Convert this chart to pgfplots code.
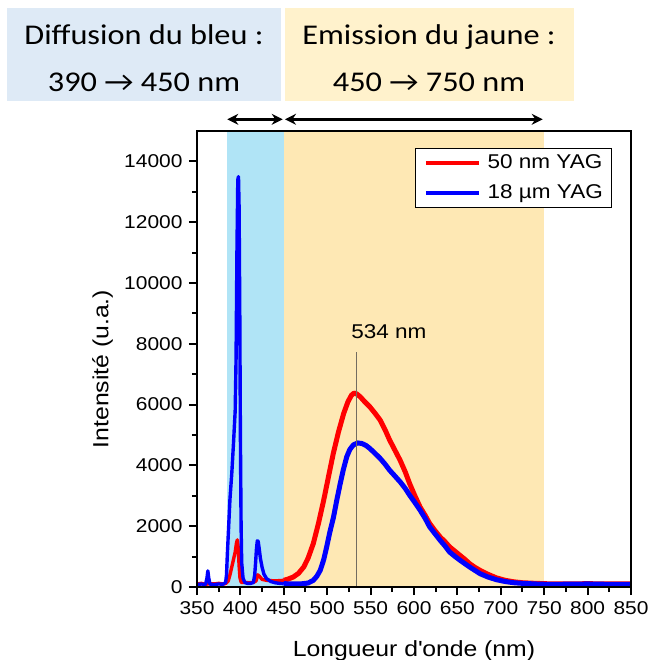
\documentclass[border=0pt]{standalone}
\usepackage{fontspec}
\setmainfont{Liberation Sans}[FakeStretch=1.13]
\newfontfamily\calib{Carlito}[FakeStretch=1.13]
\usepackage{pgfplots}
\usepackage{pgfplotstable}
\pgfplotsset{compat=1.18}
\usetikzlibrary{arrows.meta}
\definecolor{bandblue}{RGB}{176,228,246}
\definecolor{bandyellow}{RGB}{254,232,180}
\definecolor{boxblue}{RGB}{222,234,246}
\definecolor{boxyellow}{RGB}{255,242,204}
\definecolor{vline}{RGB}{115,108,96}

% 50 nm YAG, scattering region
\pgfplotstableread{
x y
350 100
355 120
360 90
365 110
370 100
375 120
380 100
383 110
386 200
388 400
390 650
392 900
394 1150
395.5 1450
396.5 1550
397.5 1300
398.5 700
399.5 300
401 150
405 150
410 140
415 150
418 200
420 400
422 350
425 250
430 220
435 210
440 200
445 210
450 220
}\redA
% 50 nm YAG, emission region
\pgfplotstableread{
x y
450 220
455 260
461 330
467 450
473 660
478 950
484 1430
490 2100
496 2860
502 3700
507 4390
513 5100
519 5710
524 6100
528 6310
531 6380
534 6350
538 6260
543 6100
549 5930
555 5720
561 5490
567 5150
572 4830
578 4500
584 4170
590 3780
595 3400
601 3000
607 2630
613 2350
618 2090
624 1860
630 1650
636 1480
641 1320
647 1180
653 1040
659 900
664 770
670 650
676 550
685 420
695 300
705 220
715 170
725 140
740 120
750 110
760 100
780 100
800 110
820 100
850 100
}\redB
% 18 um YAG, scattering region
\pgfplotstableread{
x y
350 80
355 100
358 80
360 100
361.5 300
362.5 530
363.5 300
365 90
370 80
375 100
380 90
383 150
384 400
385 1100
386.5 2000
388 2900
390 3700
392 4700
394 5800
395 7500
396 11000
397 13400
397.8 13500
398.5 12500
399.3 9000
400 5000
400.8 2000
401.5 800
403 300
405 150
408 120
412 120
415 150
416.5 400
417.5 800
418.5 1250
419.5 1520
420.5 1500
421.5 1300
423 950
425 650
427 430
430 280
435 180
440 140
445 120
450 110
}\blueA
% 18 um YAG, emission region
\pgfplotstableread{
x y
450 110
460 100
469 100
478 130
484 220
488 350
492 550
496 900
499.4 1320
503 1800
507.3 2300
511 2850
515 3400
518.5 3850
522.5 4280
526 4520
530 4670
535 4740
540 4720
545 4650
549 4560
555 4400
561 4230
567 4030
572 3840
578 3650
584 3460
590 3240
595 3020
601 2780
607 2530
613 2250
618 1980
624 1760
630 1540
636 1340
641 1150
647 1010
653 880
659 760
664 660
670 550
676 440
685 330
695 240
705 180
715 140
725 120
740 100
750 90
770 90
800 100
820 90
850 90
}\blueB

\begin{document}
\begin{tikzpicture}
\useasboundingbox (-197bp,-73bp) rectangle (454bp,587bp);
% top boxes
\fill[boxblue] (-189.7bp,486.3bp) rectangle (84bp,578.7bp);
\fill[boxyellow] (88bp,486.3bp) rectangle (377bp,578.7bp);
\begin{scope}[every node/.style={anchor=base, inner sep=0pt, font=\calib\fontsize{28.7}{32}\selectfont}]
\node at (-53bp,542bp) {Diffusion du bleu :};
\node at (-53bp,495.3bp) {390 → 450 nm};
\node at (232bp,542bp) {Emission du jaune :};
\node at (232bp,495.3bp) {450 → 750 nm};
\end{scope}
% arrows
\draw[line width=2.5bp, {Stealth[length=11bp,width=11bp]}-{Stealth[length=11bp,width=11bp]}] (30.3bp,467.7bp) -- (85.7bp,467.7bp);
\draw[line width=2.5bp, {Stealth[length=11bp,width=11bp]}-{Stealth[length=11bp,width=11bp]}] (88bp,467.7bp) -- (345.7bp,467.7bp);

\begin{axis}[
  at={(0,0)}, anchor=south west,
  scale only axis, width=434bp, height=456bp,
  xmin=350, xmax=850, ymin=0, ymax=15000,
  xtick={350,400,...,850}, ytick={0,2000,...,14000},
  minor x tick num=1, minor y tick num=1,
  tick align=outside, xtick pos=bottom, ytick pos=left,
  major tick length=8bp, minor tick length=5bp,
  every tick/.style={black, line width=2bp},
  axis line style={line width=2.5bp},
  axis on top,
  scaled y ticks=false,
  /pgf/number format/1000 sep={},
  /pgf/number format/assume math mode=true,
  tick label style={font=\fontsize{18.6}{20}\selectfont},
  xticklabel style={yshift=-3bp},
  yticklabel style={xshift=-3bp},
  xlabel={Longueur d\textquotesingle onde (nm)},
  ylabel={Intensité (u.a.)},
  label style={font=\fontsize{22}{24}\selectfont},
  xlabel style={at={(axis description cs:0.5,-0.1528)}, anchor=base},
  ylabel style={at={(axis description cs:-0.2177,0.478)}, anchor=center},
  legend style={at={(axis description cs:1,1)}, anchor=north east, xshift=-18.7bp, yshift=-17.3bp,
    draw=black, line width=1bp, fill=white, font=\fontsize{20}{22}\selectfont,
    inner xsep=9bp, inner ysep=4.8bp, row sep=10.7bp, column sep=7bp,
    nodes={inner sep=0pt, text height=15bp, text depth=4bp}},
  legend cell align=left,
  legend image code/.code={\draw[#1, line width=3.5bp] (0bp,0bp) -- (53bp,0bp);},
]
\fill[bandblue] (axis cs:384,0) rectangle (axis cs:450,15000);
\fill[bandyellow] (axis cs:450,0) rectangle (axis cs:750,15000);
\addplot[red, line width=3.4bp, line join=round] table[x=x,y=y] {\redA};
\addlegendentry{50 nm YAG}
\addplot[blue, line width=3.4bp, line join=round] table[x=x,y=y] {\blueA};
\addlegendentry{18 µm YAG}
\addplot[red, line width=5bp, line join=round, forget plot] table[x=x,y=y] {\redB};
\addplot[blue, line width=5bp, line join=round, forget plot] table[x=x,y=y] {\blueB};
\draw[vline, line width=1.2bp] (axis cs:534,0) -- (axis cs:534,7720);
\node[anchor=base, inner sep=0pt, font=\fontsize{20}{22}\selectfont] at (axis cs:571,8160) {534 nm};
\end{axis}
\end{tikzpicture}
\end{document}
